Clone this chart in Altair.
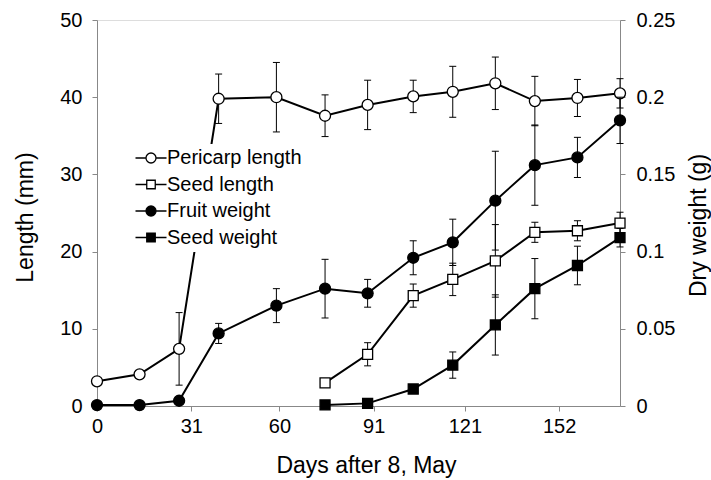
import altair as alt
import pandas as pd

# ---------------- data ----------------
days = [0, 14, 27, 40, 59, 75, 89, 104, 117, 131, 144, 158, 172]
seed_days = [75, 89, 104, 117, 131, 144, 158, 172]

pericarp_len = [3.2, 4.1, 7.4, 39.8, 40.0, 37.6, 39.0, 40.1, 40.7, 41.8, 39.5, 39.9, 40.5]
pericarp_sd = [0, 0, 4.7, 3.2, 4.5, 2.7, 3.2, 2.1, 3.3, 3.4, 3.2, 2.4, 1.9]

seed_len = [3.0, 6.7, 14.3, 16.4, 18.8, 22.5, 22.7, 23.7]
seed_len_sd = [0.5, 1.5, 1.5, 2.1, 4.7, 1.3, 1.3, 1.4]

fruit_wt = [0.0006, 0.0006, 0.0034, 0.047, 0.065, 0.076, 0.073, 0.096, 0.106, 0.133, 0.156, 0.161, 0.185]
fruit_wt_sd = [0, 0, 0, 0.0065, 0.011, 0.019, 0.009, 0.011, 0.015, 0.032, 0.026, 0.013, 0.015]

seed_wt = [0.0007, 0.0017, 0.011, 0.0265, 0.0525, 0.076, 0.091, 0.109]
seed_wt_sd = [0, 0, 0, 0.0085, 0.0195, 0.0195, 0.0125, 0.006]

series_names = ["Pericarp length", "Seed length", "Fruit weight", "Seed weight"]
x_ticks = [0, 31, 60, 91, 121, 152]
len_ticks = [0, 10, 20, 30, 40, 50]
wt_ticks = [0, 0.05, 0.1, 0.15, 0.2, 0.25]


def frame(name, xs, vals, sds):
    return pd.DataFrame({"day": xs, "value": vals, "sd": sds, "series": name})


len_df = pd.concat([
    frame("Pericarp length", days, pericarp_len, pericarp_sd),
    frame("Seed length", seed_days, seed_len, seed_len_sd),
])
wt_df = pd.concat([
    frame("Fruit weight", days, fruit_wt, fruit_wt_sd),
    frame("Seed weight", seed_days, seed_wt, seed_wt_sd),
])
legend_df = pd.DataFrame({"name": series_names})

FONT = "Liberation Sans"

x_axis = alt.Axis(values=x_ticks, title="Days after 8, May", titleFontSize=23,
                  titleFontWeight="normal", titleX=269, titleY=66,
                  titleBaseline="alphabetic", labelFontSize=20, tickSize=5,
                  labelPadding=5, grid=False, labelFlush=False)
x_scale = alt.Scale(domain=[0, 172], nice=False, zero=False)

left_axis = alt.Axis(values=len_ticks, title="Length (mm)", titleFontSize=23,
                     titleFontWeight="normal", titleAngle=270, titleX=-60, titleY=197,
                     titleBaseline="bottom", titleAlign="center",
                     labelFontSize=20, tickSize=5, labelPadding=10, grid=False,
                     labelFlush=False)
left_scale = alt.Scale(domain=[0, 50], nice=False)

right_axis = alt.Axis(values=wt_ticks, title="Dry weight (g)", orient="right",
                      format=".2~f", titleFontSize=23, titleFontWeight="normal",
                      titleAngle=270, titleX=90, titleY=205, titleBaseline="bottom",
                      titleAlign="center", labelFontSize=20, tickSize=5,
                      labelPadding=11, grid=False, labelFlush=False)
right_scale = alt.Scale(domain=[0, 0.25], nice=False)


def X(field="day"):
    return alt.X(f"{field}:Q", scale=x_scale, axis=x_axis)


def build(df, yscale, yaxis, shapes_fills):
    base = alt.Chart(df)

    def Y(field):
        return alt.Y(f"{field}:Q", scale=yscale, axis=yaxis)

    err = base.transform_filter("datum.sd > 0").transform_calculate(
        lo="datum.value - datum.sd", hi="datum.value + datum.sd")
    bars = err.mark_rule(color="black", strokeWidth=1).encode(
        x=X(), y=Y("lo"), y2="hi:Q")
    caps = [
        err.mark_rule(color="black", strokeWidth=1, xOffset=-3.5, x2Offset=3.5).encode(
            x=X(), x2="day:Q", y=Y(c))
        for c in ("lo", "hi")
    ]
    line = base.mark_line(color="black", strokeWidth=2).encode(
        x=X(), y=Y("value"), detail="series:N")
    pts = []
    for name, shape, fill, size in shapes_fills:
        pts.append(
            base.transform_filter(alt.datum.series == name)
            .mark_point(shape=shape, filled=True, fill=fill, stroke="black",
                        strokeWidth=1.3, size=size, opacity=1)
            .encode(x=X(), y=Y("value"))
        )
    return [line, bars] + caps + pts


circle_leg = "M-3.1,0L-1,0M1,0L3.1,0M-1,0A1,1,0,1,1,1,0A1,1,0,1,1,-1,0Z"
square_leg = "M-3.1,0L-0.85,0M0.85,0L3.1,0M-0.85,-0.85L0.85,-0.85L0.85,0.85L-0.85,0.85Z"

leg = alt.Legend(title=None, orient="none", legendX=40, legendY=124,
                 fillColor="white", padding=4, labelFont=FONT, labelFontSize=20,
                 labelColor="black", labelOffset=6, symbolSize=100,
                 symbolStrokeColor="black", symbolStrokeWidth=1.3, rowPadding=6.5,
                 symbolOpacity=1, labelLimit=300)

legend_layer = alt.Chart(legend_df).mark_point(
    opacity=0, filled=True, stroke="black", strokeWidth=1.3).encode(
    shape=alt.Shape("name:N", scale=alt.Scale(domain=series_names,
                    range=[circle_leg, square_leg, circle_leg, square_leg]), legend=leg),
    fill=alt.Fill("name:N", scale=alt.Scale(domain=series_names,
                  range=["white", "white", "black", "black"]), legend=leg),
    stroke=alt.Stroke("name:N", scale=alt.Scale(domain=series_names,
                      range=["black", "black", "black", "black"]), legend=leg),
)

left = alt.layer(*build(len_df, left_scale, left_axis, [
    ("Pericarp length", "circle", "white", 121),
    ("Seed length", "square", "white", 100),
]), legend_layer)

right = alt.layer(*build(wt_df, right_scale, right_axis, [
    ("Fruit weight", "circle", "black", 121),
    ("Seed weight", "square", "black", 100),
]))

chart = (
    alt.layer(left, right)
    .resolve_scale(y="independent")
    .properties(width=523, height=386,
                padding={"left": 97, "top": 20, "right": 91, "bottom": 74},
                autosize=alt.AutoSizeParams(type="none"))
    .configure_view(stroke="black", strokeWidth=1)
    .configure_axis(domainColor="black", tickColor="black", labelColor="black",
                    titleColor="black", labelFont=FONT, titleFont=FONT,
                    domainWidth=1.2, tickWidth=1)
    .configure(background="white")
)

chart.save("out.html", embed_options={"renderer": "svg", "actions": False})
